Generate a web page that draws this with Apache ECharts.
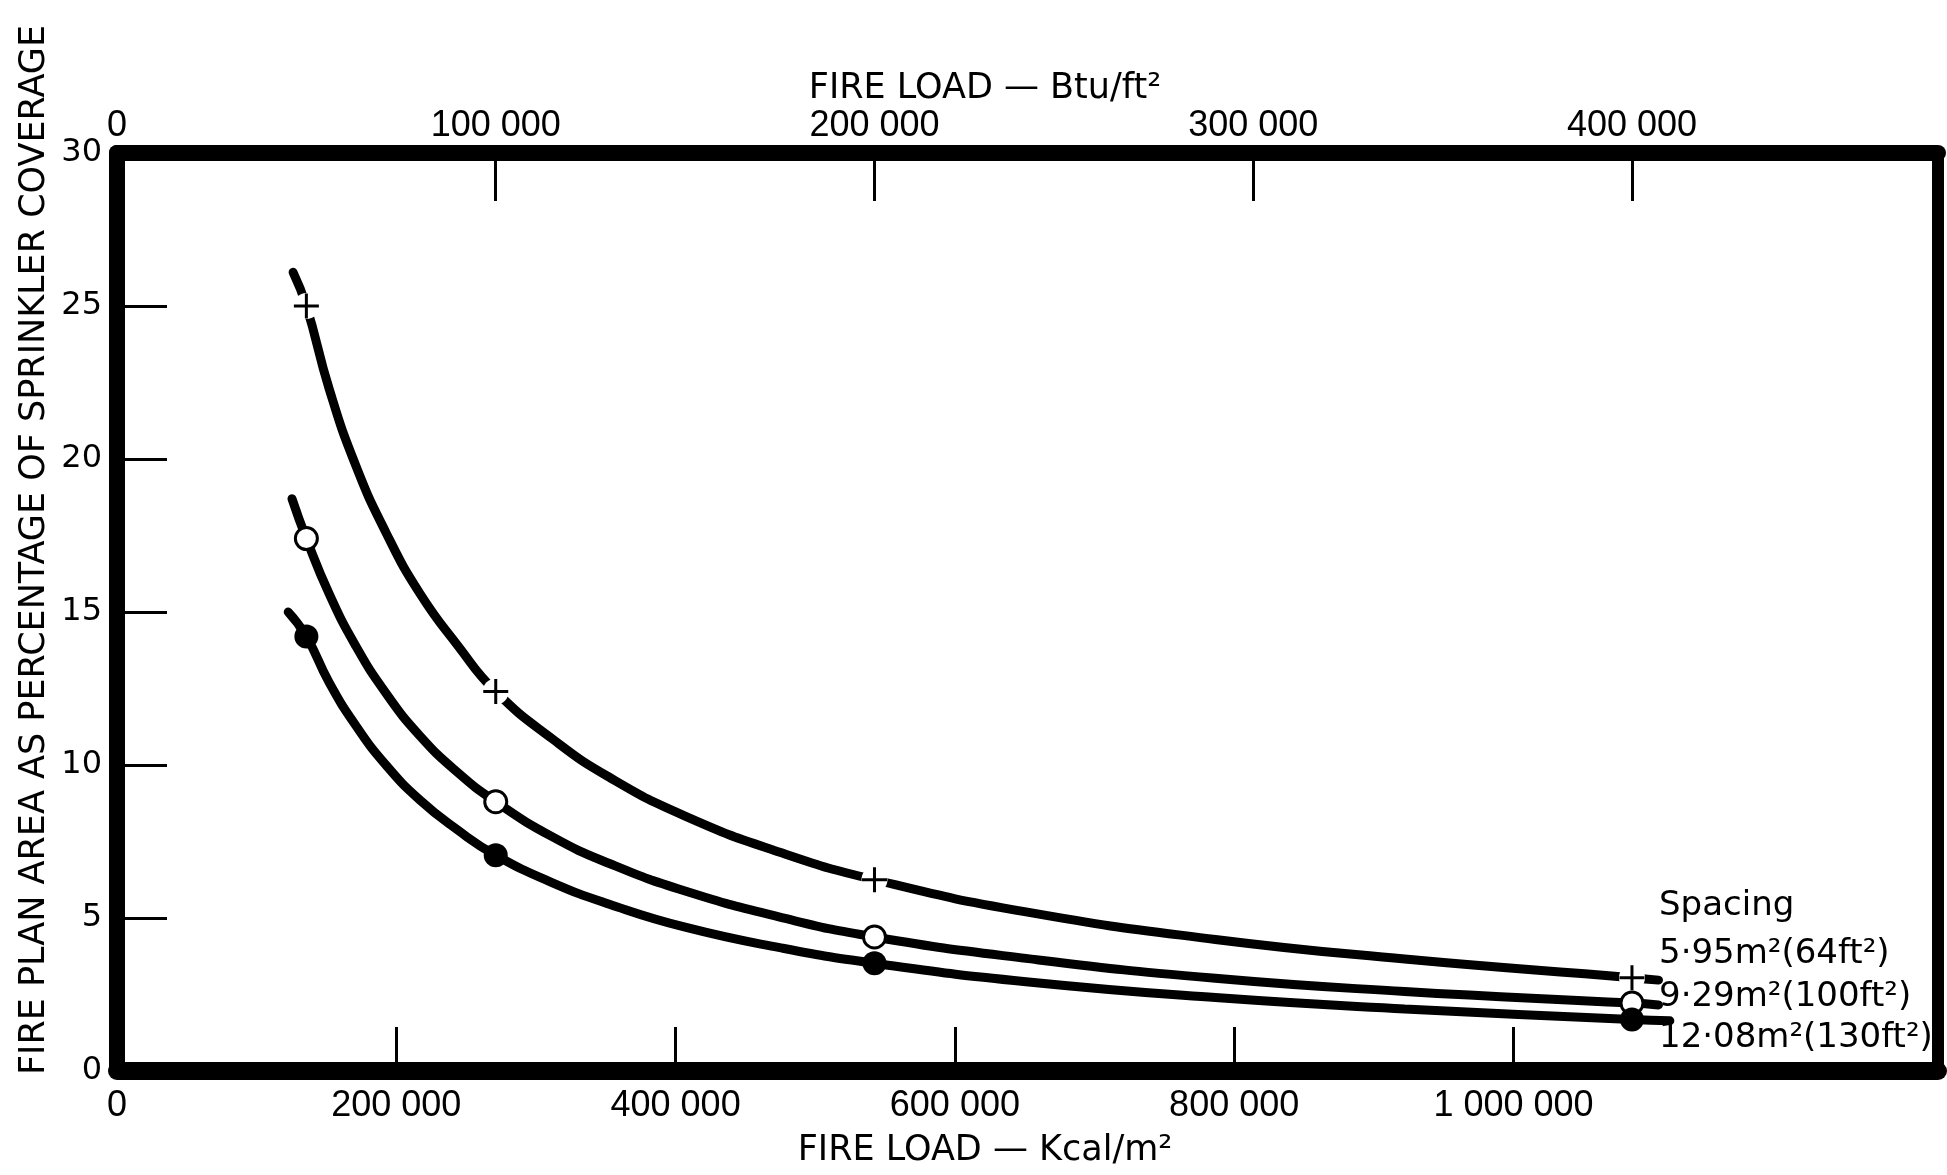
<!DOCTYPE html>
<html>
<head>
<meta charset="utf-8">
<script src="https://cdn.jsdelivr.net/npm/echarts@6/dist/echarts.min.js"></script>
<style>
html,body{margin:0;padding:0;background:#fff;}
#chart{width:1947px;height:1175px;}
</style>
</head>
<body>
<div id="chart"></div>
<script>
// ---- data (fire load in Btu/ft², y in % of sprinkler coverage) ----
const markX = [50000, 100000, 200000, 400000];
const mark595 = [25, 12.4, 6.25, 3.05];
const mark929 = [17.4, 8.8, 4.38, 2.22];
const mark1208 = [14.2, 7.05, 3.52, 1.68];

const curve595X = [46500, 50000, 56000, 63000, 71000, 80000, 90000, 100000, 115000, 130000, 150000, 175000, 200000, 240000, 290000, 340000, 400000, 407000];
const curve595Y = [26.1, 25, 22.3, 19.8, 17.6, 15.6, 13.9, 12.4, 10.85, 9.6, 8.33, 7.15, 6.25, 5.2, 4.3, 3.66, 3.05, 2.97];
const curve929X = [46200, 50000, 56000, 63000, 71000, 80000, 90000, 100000, 115000, 130000, 150000, 175000, 200000, 240000, 290000, 340000, 400000, 407000];
const curve929Y = [18.7, 17.4, 15.6, 13.9, 12.35, 10.95, 9.75, 8.8, 7.65, 6.78, 5.88, 5.03, 4.38, 3.68, 3.03, 2.6, 2.22, 2.16];
const curve1208X = [45200, 50000, 56000, 63000, 71000, 80000, 90000, 100000, 115000, 130000, 150000, 175000, 200000, 240000, 290000, 340000, 400000, 410000];
const curve1208Y = [15.0, 14.2, 12.7, 11.3, 10.0, 8.85, 7.87, 7.05, 6.15, 5.45, 4.7, 4.03, 3.52, 2.92, 2.4, 2.03, 1.68, 1.64];

const kcalTicks = [0, 200000, 400000, 600000, 800000, 1000000];
const btuTicks = [0, 100000, 200000, 300000, 400000];
const yTicks = [0, 5, 10, 15, 20, 25, 30];

const seriesNames = ['5·95m²(64ft²)', '9·29m²(100ft²)', '12·08m²(130ft²)'];
const legendTitle = 'Spacing';
const yTitle = 'FIRE PLAN AREA AS PERCENTAGE OF SPRINKLER COVERAGE';
const topTitle = 'FIRE LOAD — Btu/ft²';
const bottomTitle = 'FIRE LOAD — Kcal/m²';

const kcalMax = 1304000;
const btuMax = 480800;

function zip(xs, ys) { return xs.map((x, i) => [x, ys[i]]); }
function fmt(v) { return String(v).replace(/\B(?=(\d{3})+(?!\d))/g, ' '); }

const plusPath = 'path://M8.8,0h2.4v8.8h8.8v2.4h-8.8v8.8h-2.4v-8.8h-8.8v-2.4h8.8z';
const tickFont = 'Liberation Sans';

const chart = echarts.init(document.getElementById('chart'), null, {renderer: 'canvas'});

function lineSeries(name, data) {
  return {
    name: name, type: 'line', xAxisIndex: 1, yAxisIndex: 0,
    data: data, smooth: 0.5, symbol: 'none',
    lineStyle: {color: '#000', width: 9, cap: 'round'}, z: 3
  };
}

const option = {
  backgroundColor: '#fff',
  animation: false,
  grid: {left: 117, right: 9, top: 153, bottom: 104, outerBoundsMode: 'none', containLabel: false},
  xAxis: [
    {
      type: 'value', position: 'bottom', min: 0, max: kcalMax, interval: 200000,
      axisLine: {show: true, onZero: false, lineStyle: {color: '#000', width: 18}},
      axisTick: {show: true, inside: true, length: 44, customValues: kcalTicks, lineStyle: {color: '#000', width: 3}},
      axisLabel: {margin: 17, color: '#000', fontFamily: tickFont, fontSize: 36, customValues: kcalTicks, formatter: fmt},
      splitLine: {show: false}
    },
    {
      type: 'value', position: 'top', min: 0, max: btuMax, interval: 100000,
      axisLine: {show: true, onZero: false, lineStyle: {color: '#000', width: 16}},
      axisTick: {show: true, inside: true, length: 48, customValues: btuTicks, lineStyle: {color: '#000', width: 3}},
      axisLabel: {margin: 9, color: '#000', fontFamily: tickFont, fontSize: 36, customValues: btuTicks, formatter: fmt},
      splitLine: {show: false}
    }
  ],
  yAxis: [
    {
      type: 'value', position: 'left', min: 0, max: 30, interval: 5,
      axisLine: {show: true, onZero: false, lineStyle: {color: '#000', width: 16}},
      axisTick: {show: true, inside: true, length: 50, customValues: yTicks, lineStyle: {color: '#000', width: 3}},
      axisLabel: {margin: 15, color: '#000', fontFamily: 'DejaVu Sans', fontSize: 32, customValues: yTicks},
      splitLine: {show: false}
    },
    {
      type: 'value', position: 'right', min: 0, max: 30, interval: 5,
      axisLine: {show: true, onZero: false, lineStyle: {color: '#000', width: 12}},
      axisTick: {show: false}, axisLabel: {show: false}, splitLine: {show: false}
    }
  ],
  series: [
    lineSeries(seriesNames[0], zip(curve595X, curve595Y)),
    lineSeries(seriesNames[1], zip(curve929X, curve929Y)),
    lineSeries(seriesNames[2], zip(curve1208X, curve1208Y)),
    {
      name: seriesNames[0] + ' gap', type: 'scatter', xAxisIndex: 1, yAxisIndex: 0,
      data: zip(markX, mark595), symbol: 'circle', symbolSize: 26,
      itemStyle: {color: '#fff', opacity: 1}, z: 4, silent: true
    },
    {
      name: seriesNames[0] + ' points', type: 'scatter', xAxisIndex: 1, yAxisIndex: 0,
      data: zip(markX, mark595), symbol: plusPath, symbolSize: 25,
      itemStyle: {color: '#000', opacity: 1}, z: 5
    },
    {
      name: seriesNames[1] + ' points', type: 'scatter', xAxisIndex: 1, yAxisIndex: 0,
      data: zip(markX, mark929), symbol: 'circle', symbolSize: 22,
      itemStyle: {color: '#fff', borderColor: '#000', borderWidth: 3, opacity: 1}, z: 5
    },
    {
      name: seriesNames[2] + ' points', type: 'scatter', xAxisIndex: 1, yAxisIndex: 0,
      data: zip(markX, mark1208), symbol: 'circle', symbolSize: 24,
      itemStyle: {color: '#000', opacity: 1}, z: 5
    }
  ],
  graphic: [
    {type: 'text', x: 35, y: 550, rotation: Math.PI / 2,
     style: {text: yTitle, font: '35px "DejaVu Sans"', fill: '#000', textAlign: 'center', textVerticalAlign: 'middle'}},
    {type: 'text', x: 985, y: 89,
     style: {text: topTitle, font: '35px "DejaVu Sans"', fill: '#000', textAlign: 'center', textVerticalAlign: 'middle'}},
    {type: 'text', x: 985, y: 1151,
     style: {text: bottomTitle, font: '35px "DejaVu Sans"', fill: '#000', textAlign: 'center', textVerticalAlign: 'middle'}},
    {type: 'text', x: 1659, y: 906,
     style: {text: legendTitle, font: '34px "DejaVu Sans"', fill: '#000', textAlign: 'left', textVerticalAlign: 'middle'}},
    {type: 'text', x: 1659, y: 954,
     style: {text: seriesNames[0], font: '34px "DejaVu Sans"', fill: '#000', textAlign: 'left', textVerticalAlign: 'middle'}},
    {type: 'text', x: 1659, y: 997,
     style: {text: seriesNames[1], font: '34px "DejaVu Sans"', fill: '#000', textAlign: 'left', textVerticalAlign: 'middle'}},
    {type: 'text', x: 1659, y: 1038,
     style: {text: seriesNames[2], font: '34px "DejaVu Sans"', fill: '#000', textAlign: 'left', textVerticalAlign: 'middle'}}
  ]
};
chart.setOption(option);
</script>
</body>
</html>
